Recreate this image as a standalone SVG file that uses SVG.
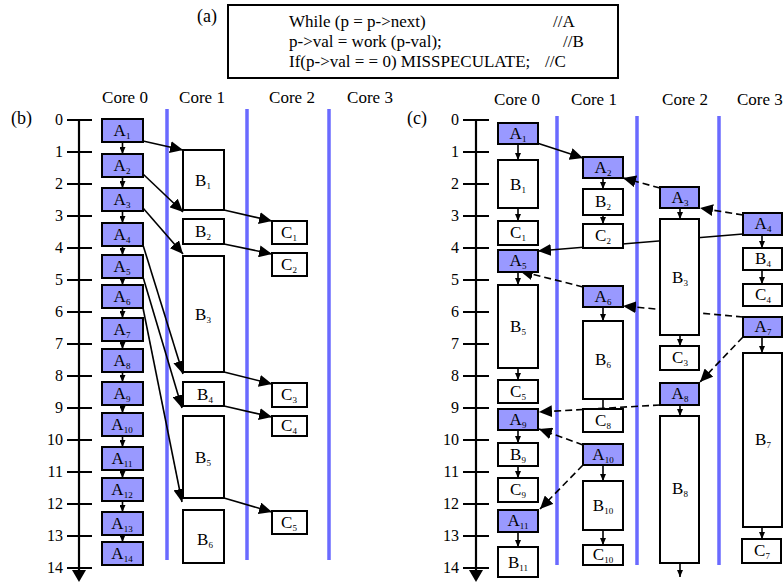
<svg xmlns="http://www.w3.org/2000/svg" width="783" height="584" viewBox="0 0 783 584">
<style>
text{font-family:"Liberation Serif","Times New Roman",serif;fill:#000}
.h{font-size:17px;text-anchor:middle}
.n{font-size:16px;text-anchor:end}
.p{font-size:17px}
.q{font-size:18px}
.l{font-size:17px;text-anchor:middle}
.s{font-size:9px}
.a{fill:#9999ff;stroke:#000;stroke-width:2}
.w{fill:#fff;stroke:#000;stroke-width:2}
.ax{stroke:#000;stroke-width:2.2;fill:none}
.bl{stroke:#6a6aff;stroke-width:3.5}
.c{stroke:#000;stroke-width:1.6;fill:none}
.d{stroke:#000;stroke-width:1.6;fill:none;stroke-dasharray:7 4}
.big{marker-end:url(#ah)}
.sm{marker-end:url(#sh)}
</style>
<defs>
<marker id="ah" markerUnits="userSpaceOnUse" markerWidth="14" markerHeight="12" refX="13" refY="6" orient="auto"><path d="M0,0 L13,6 L0,12 z" fill="#000"/></marker>
<marker id="sh" markerUnits="userSpaceOnUse" markerWidth="7" markerHeight="6" refX="7" refY="3" orient="auto"><path d="M0,0 L7,3 L0,6 z" fill="#000"/></marker>
</defs>

<!-- (a) code box -->
<g id="code">
<text class="q" x="197" y="22">(a)</text>
<rect x="228" y="5" width="390" height="73" fill="#fff" stroke="#000" stroke-width="2"/>
<text class="p" x="289" y="27">While (p = p-&gt;next)</text>
<text class="p" x="553" y="27">//A</text>
<text class="p" x="289" y="47">p-&gt;val = work (p-val);</text>
<text class="p" x="563" y="47">//B</text>
<text class="p" x="289" y="67">If(p-&gt;val = = 0) MISSPECULATE;</text>
<text class="p" x="545" y="67">//C</text>
</g>

<!-- panel labels and headings -->
<g id="headings">
<text class="q" x="11" y="124">(b)</text>
<text class="q" x="407" y="124">(c)</text>
<text class="h" x="125" y="103">Core 0</text>
<text class="h" x="202" y="103">Core 1</text>
<text class="h" x="292" y="103">Core 2</text>
<text class="h" x="370" y="103">Core 3</text>
<text class="h" x="517" y="105">Core 0</text>
<text class="h" x="594" y="105">Core 1</text>
<text class="h" x="685" y="105">Core 2</text>
<text x="737" y="105" style="font-size:17px">Core 3</text>
</g>

<!-- time axes -->
<g id="axis-b">
<line class="ax" x1="79" y1="119" x2="79" y2="572"/>
<path d="M72,570 L86,570 L79,582 z" fill="#000"/>
<path class="ax" d="M67,120H92M67,152H92M67,184H92M67,216H92M67,248H92M67,280H92M67,312H92M67,344H92M67,376H92M67,408H92M67,440H92M67,472H92M67,504H92M67,536H92M67,568H92"/>
<text class="n" x="63" y="125">0</text><text class="n" x="63" y="157">1</text><text class="n" x="63" y="189">2</text><text class="n" x="63" y="221">3</text><text class="n" x="63" y="253">4</text><text class="n" x="63" y="285">5</text><text class="n" x="63" y="317">6</text><text class="n" x="63" y="349">7</text><text class="n" x="63" y="381">8</text><text class="n" x="63" y="413">9</text><text class="n" x="63" y="445">10</text><text class="n" x="63" y="477">11</text><text class="n" x="63" y="509">12</text><text class="n" x="63" y="541">13</text><text class="n" x="63" y="573">14</text>
</g>
<g id="axis-c">
<line class="ax" x1="476" y1="119" x2="476" y2="572"/>
<path d="M469,570 L483,570 L476,582 z" fill="#000"/>
<path class="ax" d="M463,120H489M463,152H489M463,184H489M463,216H489M463,248H489M463,280H489M463,312H489M463,344H489M463,376H489M463,408H489M463,440H489M463,472H489M463,504H489M463,536H489M463,568H489"/>
<text class="n" x="459" y="125">0</text><text class="n" x="459" y="157">1</text><text class="n" x="459" y="189">2</text><text class="n" x="459" y="221">3</text><text class="n" x="459" y="253">4</text><text class="n" x="459" y="285">5</text><text class="n" x="459" y="317">6</text><text class="n" x="459" y="349">7</text><text class="n" x="459" y="381">8</text><text class="n" x="459" y="413">9</text><text class="n" x="459" y="445">10</text><text class="n" x="459" y="477">11</text><text class="n" x="459" y="509">12</text><text class="n" x="459" y="541">13</text><text class="n" x="459" y="573">14</text>
</g>

<!-- core separators -->
<g id="separators">
<line class="bl" x1="167" y1="109" x2="167" y2="560"/>
<line class="bl" x1="247" y1="109" x2="247" y2="560"/>
<line class="bl" x1="329" y1="109" x2="329" y2="560"/>
<line class="bl" x1="557" y1="116" x2="557" y2="565"/>
<line class="bl" x1="637" y1="116" x2="637" y2="565"/>
<line class="bl" x1="719" y1="116" x2="719" y2="565"/>
</g>

<!-- connectors -->
<g id="connectors">
<!-- (b) core0 chain -->
<path class="c sm" d="M122.5,142V154"/>
<path class="c sm" d="M122.5,177V188"/>
<path class="c sm" d="M122.5,211V223"/>
<path class="c sm" d="M122.5,246V255"/>
<path class="c sm" d="M122.5,278V285"/>
<path class="c sm" d="M122.5,308V318"/>
<path class="c sm" d="M122.5,341V349"/>
<path class="c sm" d="M122.5,372V382"/>
<path class="c sm" d="M122.5,405V413"/>
<path class="c sm" d="M122.5,436V447"/>
<path class="c sm" d="M122.5,470V478"/>
<path class="c sm" d="M122.5,501V512"/>
<path class="c sm" d="M122.5,535V542"/>
<!-- (b) A to B -->
<path class="c big" d="M143,141L183,150"/>
<path class="c big" d="M143,174L183,212"/>
<path class="c big" d="M143,208L183,254"/>
<path class="c big" d="M143,245L183,374"/>
<path class="c big" d="M143,277L182,408"/>
<path class="c big" d="M143,308L182,502"/>
<!-- (b) B to C -->
<path class="c big" d="M224,210L272,221"/>
<path class="c big" d="M224,244L272,254"/>
<path class="c big" d="M224,372L272,384"/>
<path class="c big" d="M224,406L272,417"/>
<path class="c big" d="M224,498L272,512"/>

<!-- (c) vertical chains -->
<path class="c sm" d="M518,144V160"/>
<path class="c sm" d="M518,208V221"/>
<path class="c sm" d="M518,272V285"/>
<path class="c sm" d="M518,368V380"/>
<path class="c sm" d="M518,430V443"/>
<path class="c sm" d="M518,466V478"/>
<path class="c sm" d="M518,532V547"/>
<path class="c sm" d="M603,178V189"/>
<path class="c sm" d="M603,215V224"/>
<path class="c sm" d="M603,307V321"/>
<path class="c" d="M603,399V409"/>
<path class="c sm" d="M603,465V481"/>
<path class="c sm" d="M603,530V545"/>
<path class="c sm" d="M680,208V219"/>
<path class="c sm" d="M680,335V346"/>
<path class="c sm" d="M680,405V416"/>
<path class="c sm" d="M680,563V577"/>
<path class="c sm" d="M762,235V248"/>
<path class="c sm" d="M762,270V284"/>
<path class="c sm" d="M762,337V353"/>
<path class="c sm" d="M762,527V539"/>
<!-- (c) cross-core -->
<path class="c big" d="M537,143L583,158"/>
<path class="d big" d="M660,188L623,178"/>
<path class="d big" d="M743,215L700,208"/>
<path class="c big" d="M743,234L538,251"/>
<path class="d big" d="M583,287L520,271"/>
<path class="d big" d="M743,317L623,306"/>
<path class="d big" d="M743,337L700,382"/>
<path class="d big" d="M660,405L539,412"/>
<path class="d big" d="M583,445L539,429"/>
<path class="d big" d="M583,465L540,509"/>
</g>

<!-- (b) nodes -->
<g id="b-A1"><rect class="a" x="102" y="119" width="41" height="23"/><text class="l" x="122" y="136">A<tspan class="s" dy="3">1</tspan></text></g>
<g id="b-A2"><rect class="a" x="102" y="154" width="41" height="23"/><text class="l" x="122" y="171">A<tspan class="s" dy="3">2</tspan></text></g>
<g id="b-A3"><rect class="a" x="102" y="188" width="41" height="23"/><text class="l" x="122" y="205">A<tspan class="s" dy="3">3</tspan></text></g>
<g id="b-A4"><rect class="a" x="102" y="223" width="41" height="23"/><text class="l" x="122" y="240">A<tspan class="s" dy="3">4</tspan></text></g>
<g id="b-A5"><rect class="a" x="102" y="255" width="41" height="23"/><text class="l" x="122" y="272">A<tspan class="s" dy="3">5</tspan></text></g>
<g id="b-A6"><rect class="a" x="102" y="285" width="41" height="23"/><text class="l" x="122" y="302">A<tspan class="s" dy="3">6</tspan></text></g>
<g id="b-A7"><rect class="a" x="102" y="318" width="41" height="23"/><text class="l" x="122" y="335">A<tspan class="s" dy="3">7</tspan></text></g>
<g id="b-A8"><rect class="a" x="102" y="349" width="41" height="23"/><text class="l" x="122" y="366">A<tspan class="s" dy="3">8</tspan></text></g>
<g id="b-A9"><rect class="a" x="102" y="382" width="41" height="23"/><text class="l" x="122" y="399">A<tspan class="s" dy="3">9</tspan></text></g>
<g id="b-A10"><rect class="a" x="102" y="413" width="41" height="23"/><text class="l" x="122" y="430">A<tspan class="s" dy="3">10</tspan></text></g>
<g id="b-A11"><rect class="a" x="102" y="447" width="41" height="23"/><text class="l" x="122" y="464">A<tspan class="s" dy="3">11</tspan></text></g>
<g id="b-A12"><rect class="a" x="102" y="478" width="41" height="23"/><text class="l" x="122" y="495">A<tspan class="s" dy="3">12</tspan></text></g>
<g id="b-A13"><rect class="a" x="102" y="512" width="41" height="23"/><text class="l" x="122" y="529">A<tspan class="s" dy="3">13</tspan></text></g>
<g id="b-A14"><rect class="a" x="102" y="542" width="41" height="23"/><text class="l" x="122" y="559">A<tspan class="s" dy="3">14</tspan></text></g>

<g id="b-B1"><rect class="w" x="183" y="150" width="41" height="60"/><text class="l" x="203" y="186">B<tspan class="s" dy="3">1</tspan></text></g>
<g id="b-B2"><rect class="w" x="183" y="219" width="41" height="25"/><text class="l" x="203" y="237">B<tspan class="s" dy="3">2</tspan></text></g>
<g id="b-B3"><rect class="w" x="183" y="256" width="41" height="116"/><text class="l" x="203" y="320">B<tspan class="s" dy="3">3</tspan></text></g>
<g id="b-B4"><rect class="w" x="183" y="382" width="41" height="24"/><text class="l" x="205" y="400">B<tspan class="s" dy="3">4</tspan></text></g>
<g id="b-B5"><rect class="w" x="183" y="416" width="41" height="82"/><text class="l" x="203" y="463">B<tspan class="s" dy="3">5</tspan></text></g>
<g id="b-B6"><rect class="w" x="183" y="510" width="41" height="53"/><text class="l" x="205" y="545">B<tspan class="s" dy="3">6</tspan></text></g>

<g id="b-C1"><rect class="w" x="272" y="221" width="35" height="23"/><text class="l" x="289" y="238">C<tspan class="s" dy="3">1</tspan></text></g>
<g id="b-C2"><rect class="w" x="272" y="253" width="35" height="23"/><text class="l" x="289" y="270">C<tspan class="s" dy="3">2</tspan></text></g>
<g id="b-C3"><rect class="w" x="272" y="383" width="35" height="24"/><text class="l" x="289" y="400">C<tspan class="s" dy="3">3</tspan></text></g>
<g id="b-C4"><rect class="w" x="272" y="416" width="35" height="20"/><text class="l" x="289" y="431">C<tspan class="s" dy="3">4</tspan></text></g>
<g id="b-C5"><rect class="w" x="272" y="511" width="35" height="23"/><text class="l" x="289" y="528">C<tspan class="s" dy="3">5</tspan></text></g>

<!-- (c) nodes core 0 -->
<g id="c-A1"><rect class="a" x="498" y="123" width="40" height="21"/><text class="l" x="518" y="139">A<tspan class="s" dy="3">1</tspan></text></g>
<g id="c-B1"><rect class="w" x="498" y="160" width="40" height="48"/><text class="l" x="518" y="190">B<tspan class="s" dy="3">1</tspan></text></g>
<g id="c-C1"><rect class="w" x="498" y="221" width="40" height="24"/><text class="l" x="518" y="238">C<tspan class="s" dy="3">1</tspan></text></g>
<g id="c-A5"><rect class="a" x="498" y="250" width="40" height="22"/><text class="l" x="518" y="266">A<tspan class="s" dy="3">5</tspan></text></g>
<g id="c-B5"><rect class="w" x="498" y="285" width="40" height="83"/><text class="l" x="518" y="332">B<tspan class="s" dy="3">5</tspan></text></g>
<g id="c-C5"><rect class="w" x="498" y="380" width="40" height="23"/><text class="l" x="518" y="397">C<tspan class="s" dy="3">5</tspan></text></g>
<g id="c-A9"><rect class="a" x="498" y="409" width="40" height="21"/><text class="l" x="518" y="425">A<tspan class="s" dy="3">9</tspan></text></g>
<g id="c-B9"><rect class="w" x="498" y="443" width="40" height="23"/><text class="l" x="518" y="460">B<tspan class="s" dy="3">9</tspan></text></g>
<g id="c-C9"><rect class="w" x="498" y="478" width="40" height="24"/><text class="l" x="518" y="495">C<tspan class="s" dy="3">9</tspan></text></g>
<g id="c-A11"><rect class="a" x="498" y="510" width="40" height="22"/><text class="l" x="518" y="526">A<tspan class="s" dy="3">11</tspan></text></g>
<g id="c-B11"><rect class="w" x="498" y="547" width="40" height="30"/><text class="l" x="518" y="568">B<tspan class="s" dy="3">11</tspan></text></g>

<!-- (c) nodes core 1 -->
<g id="c-A2"><rect class="a" x="583" y="157" width="40" height="21"/><text class="l" x="603" y="173">A<tspan class="s" dy="3">2</tspan></text></g>
<g id="c-B2"><rect class="w" x="583" y="189" width="40" height="26"/><text class="l" x="603" y="207">B<tspan class="s" dy="3">2</tspan></text></g>
<g id="c-C2"><rect class="w" x="583" y="224" width="40" height="24"/><text class="l" x="603" y="241">C<tspan class="s" dy="3">2</tspan></text></g>
<g id="c-A6"><rect class="a" x="583" y="286" width="40" height="21"/><text class="l" x="603" y="302">A<tspan class="s" dy="3">6</tspan></text></g>
<g id="c-B6"><rect class="w" x="583" y="321" width="40" height="78"/><text class="l" x="603" y="365">B<tspan class="s" dy="3">6</tspan></text></g>
<g id="c-C8"><rect class="w" x="583" y="409" width="40" height="23"/><text class="l" x="603" y="426">C<tspan class="s" dy="3">8</tspan></text></g>
<g id="c-A10"><rect class="a" x="583" y="444" width="40" height="21"/><text class="l" x="603" y="460">A<tspan class="s" dy="3">10</tspan></text></g>
<g id="c-B10"><rect class="w" x="583" y="481" width="40" height="49"/><text class="l" x="603" y="511">B<tspan class="s" dy="3">10</tspan></text></g>
<g id="c-C10"><rect class="w" x="583" y="545" width="40" height="20"/><text class="l" x="603" y="560">C<tspan class="s" dy="3">10</tspan></text></g>

<!-- (c) nodes core 2 -->
<g id="c-A3"><rect class="a" x="660" y="187" width="39" height="21"/><text class="l" x="680" y="203">A<tspan class="s" dy="3">3</tspan></text></g>
<g id="c-B3"><rect class="w" x="660" y="219" width="39" height="116"/><text class="l" x="680" y="283">B<tspan class="s" dy="3">3</tspan></text></g>
<g id="c-C3"><rect class="w" x="660" y="346" width="39" height="24"/><text class="l" x="680" y="363">C<tspan class="s" dy="3">3</tspan></text></g>
<g id="c-A8"><rect class="a" x="660" y="383" width="39" height="22"/><text class="l" x="680" y="399">A<tspan class="s" dy="3">8</tspan></text></g>
<g id="c-B8"><rect class="w" x="660" y="416" width="39" height="147"/><text class="l" x="680" y="494">B<tspan class="s" dy="3">8</tspan></text></g>

<!-- (c) nodes core 3 -->
<g id="c-A4"><rect class="a" x="743" y="213" width="39" height="22"/><text class="l" x="763" y="229">A<tspan class="s" dy="3">4</tspan></text></g>
<g id="c-B4"><rect class="w" x="743" y="248" width="39" height="22"/><text class="l" x="763" y="264">B<tspan class="s" dy="3">4</tspan></text></g>
<g id="c-C4"><rect class="w" x="743" y="284" width="39" height="22"/><text class="l" x="763" y="300">C<tspan class="s" dy="3">4</tspan></text></g>
<g id="c-A7"><rect class="a" x="743" y="317" width="39" height="20"/><text class="l" x="763" y="332">A<tspan class="s" dy="3">7</tspan></text></g>
<g id="c-B7"><rect class="w" x="743" y="353" width="39" height="174"/><text class="l" x="763" y="445">B<tspan class="s" dy="3">7</tspan></text></g>
<g id="c-C7"><rect class="w" x="742" y="539" width="39" height="24"/><text class="l" x="762" y="556">C<tspan class="s" dy="3">7</tspan></text></g>
</svg>
